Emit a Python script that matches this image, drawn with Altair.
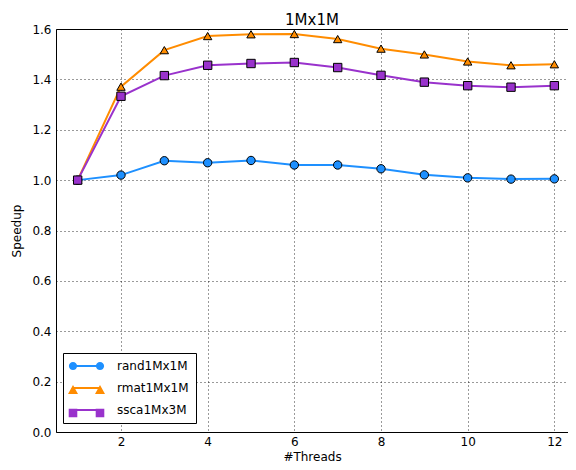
import altair as alt
import pandas as pd

threads = [1, 2, 3, 4, 5, 6, 7, 8, 9, 10, 11, 12]
series_names = ["rand1Mx1M", "rmat1Mx1M", "ssca1Mx3M"]
rand = [1.0, 1.02, 1.077, 1.069, 1.078, 1.06, 1.06, 1.045, 1.021, 1.009, 1.004, 1.005]
rmat = [1.0, 1.371, 1.516, 1.572, 1.579, 1.58, 1.56, 1.522, 1.499, 1.471, 1.456, 1.46]
ssca = [1.0, 1.333, 1.415, 1.456, 1.463, 1.467, 1.447, 1.416, 1.389, 1.375, 1.369, 1.375]
colors = ["#1E90FF", "#FF8C00", "#9932CC"]
shapes = ["circle", "triangle-up", "square"]
x_ticks = [2, 4, 6, 8, 10, 12]
y_ticks = [0.0, 0.2, 0.4, 0.6, 0.8, 1.0, 1.2, 1.4, 1.6]

rows = []
for name, vals in zip(series_names, [rand, rmat, ssca]):
    for t, v in zip(threads, vals):
        rows.append({"threads": t, "speedup": v, "series": name})
df = pd.DataFrame(rows)

FONT = "DejaVu Sans"


# legend glyphs: two markers joined by a line (matplotlib style), unit = sqrt(size)/2 px
def circ(cx, r):
    return (f"M{cx - r},0A{r},{r} 0 1,0 {cx + r},0A{r},{r} 0 1,0 {cx - r},0Z")


def tri(cx, w, h):
    return f"M{cx},{-h}L{cx + w},{h * 0.8}L{cx - w},{h * 0.8}Z"


def sq(cx, a):
    return f"M{cx - a},{-a}H{cx + a}V{a}H{cx - a}Z"


D = 2.7
legend_shapes = [
    circ(-D, 0.82) + circ(D, 0.82),
    tri(-D, 1.0, 1.0) + tri(D, 1.0, 1.0),
    sq(-D, 0.86) + sq(D, 0.86),
]

common_legend = dict(title=None, orient="none", legendX=7, legendY=324, padding=7,
                     rowPadding=10, symbolSize=100, symbolOffset=10.5, labelOffset=24.5,
                     labelFontSize=12, labelFont=FONT, cornerRadius=0)

x_enc = alt.X("threads:Q", scale=alt.Scale(domain=[0.5, 12.315], nice=False, zero=False),
              axis=alt.Axis(values=x_ticks, title="#Threads", format="d"))
y_enc = alt.Y("speedup:Q", scale=alt.Scale(domain=[0, 1.6], nice=False),
              axis=alt.Axis(values=y_ticks, title="Speedup", format=".1f"))

color_scale = alt.Scale(domain=series_names, range=colors)

lines = alt.Chart(df).mark_line(strokeWidth=2).encode(
    x=x_enc, y=y_enc,
    color=alt.Color("series:N", scale=color_scale,
                    legend=alt.Legend(symbolType=f"M{-D},0H{D}", symbolStrokeWidth=2,
                                      fillColor="white", strokeColor="black",
                                      labelColor="black", **common_legend)))

points = alt.Chart(df).mark_point(filled=True, size=70, stroke="black", strokeWidth=1,
                                  opacity=1).encode(
    x=x_enc, y=y_enc,
    color=alt.Color("series:N", scale=color_scale, legend=None),
    shape=alt.Shape("series:N", scale=alt.Scale(domain=series_names, range=shapes), legend=None))

leg_kw = dict(symbolStrokeColor="black", symbolStrokeWidth=1, symbolOpacity=1,
              labelExpr="' '", **common_legend)
legend_glyphs = alt.Chart(df).transform_filter("false").mark_point(
    filled=True, stroke="black", strokeWidth=1, opacity=1).encode(
    x=x_enc, y=y_enc,
    color=alt.Color("series:N", scale=color_scale, legend=alt.Legend(**leg_kw)),
    shape=alt.Shape("series:N", scale=alt.Scale(domain=series_names, range=legend_shapes),
                    legend=alt.Legend(**leg_kw)))

chart = alt.layer(lines, points, legend_glyphs).resolve_scale(
    color="independent", shape="independent"
).resolve_legend(color="independent", shape="independent").properties(
    width=512, height=403,
    title=alt.TitleParams("1Mx1M", font=FONT, fontSize=15, fontWeight="normal", offset=-5,
                          color="black"),
    autosize=alt.AutoSizeParams(type="none"),
    padding={"left": 48, "top": 21, "right": 0, "bottom": 38},
).configure_view(stroke="black", strokeWidth=1).configure_axis(
    domain=False, grid=True, gridColor="black", gridDash=[1, 3], gridWidth=0.8, gridOpacity=1,
    ticks=False, labelFont=FONT, labelFontSize=12, labelColor="black",
    titleFont=FONT, titleFontSize=12, titleFontWeight="normal", titleColor="black",
).configure_axisY(titlePadding=8, labelPadding=5).configure_axisX(titlePadding=4, labelPadding=4)

chart.save("out.html", embed_options={"renderer": "svg", "actions": False})
